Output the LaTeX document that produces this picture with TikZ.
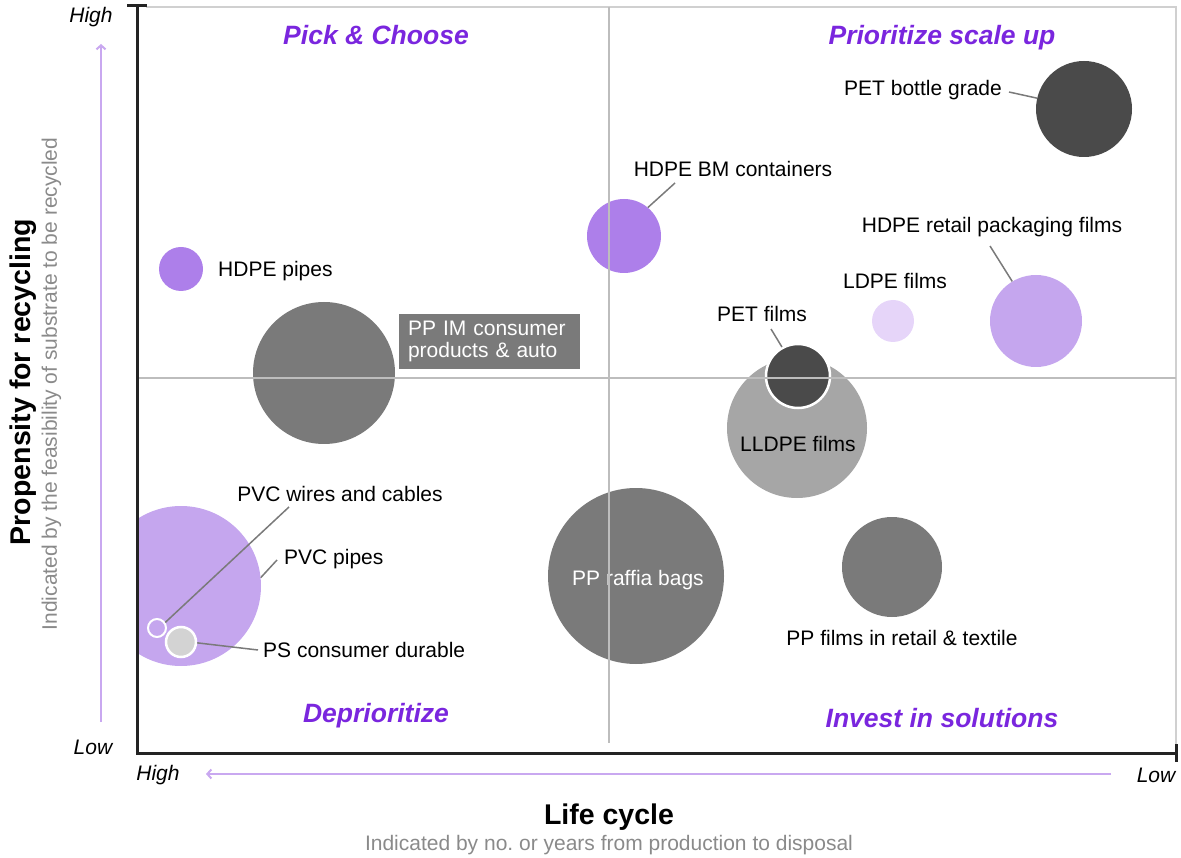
\documentclass[tikz,border=0pt]{standalone}
\usepackage{fontspec}
\setmainfont{Liberation Sans}
\usetikzlibrary{arrows.meta}
\definecolor{darkgrey}{HTML}{4A4A4A}
\definecolor{midgrey}{HTML}{7A7A7A}
\definecolor{lightgrey}{HTML}{A6A6A6}
\definecolor{palegrey}{HTML}{D3D3D3}
\definecolor{purplemid}{HTML}{AD7FEA}
\definecolor{purplesoft}{HTML}{C5A6EE}
\definecolor{purplepale}{HTML}{E6D5F9}
\definecolor{quadpurple}{HTML}{7A26DE}
\definecolor{arrowpurple}{HTML}{C9A8F0}
\definecolor{gridgrey}{HTML}{BDBDBD}
\definecolor{framegrey}{HTML}{D0D0D0}
\definecolor{subgrey}{HTML}{8A8A8A}
\definecolor{axisblack}{HTML}{232323}

\begin{document}
\begin{tikzpicture}
    [x=1pt, y=-1pt,
     bubble/.style={circle, inner sep=0pt, minimum size=#1},
     ringed/.style={draw=white, line width=2.5pt},
     lbl/.style={inner sep=0pt, font=\fontsize{21}{22}\selectfont},
     quad/.style={text=quadpurple, font=\fontsize{26.5}{30}\selectfont\bfseries\itshape},
     ends/.style={font=\fontsize{21}{25}\selectfont\itshape},
     axtitle/.style={font=\fontsize{28.5}{32}\selectfont\bfseries},
     axsub/.style={text=subgrey, font=\fontsize{21}{25}\selectfont},
     leader/.style={draw=midgrey, line width=1.5pt},
     gridline/.style={draw=gridgrey, line width=1.5pt},
     axis/.style={draw=axisblack, line width=3pt},
     axarrow/.style={draw=arrowpurple, line width=2pt, -{Straight Barb[length=4pt,width=9pt]}}]
    \useasboundingbox (0,0) rectangle (1181,858);
    \draw[draw=framegrey, line width=2pt] (146,7) -- (1176,7) -- (1176,745);

    \begin{scope}
      \clip (137,0) rectangle (1181,858);
      \node[bubble=160pt, fill=purplesoft] (pvcpipes) at (181,586) {};
    \end{scope}
    \node[bubble=18pt, fill=purplesoft, draw=white, line width=2pt] (pvcwires) at (157,628) {};
    \node[bubble=30pt, fill=palegrey, ringed] (pscons) at (181,642) {};
    \node[bubble=44pt, fill=purplemid] (hdpepipes) at (181,269) {};
    \node[bubble=142pt, fill=midgrey] (ppim) at (324,373) {};
    \node[bubble=74pt, fill=purplemid] (hdpebm) at (624,236) {};
    \node[bubble=96pt, fill=darkgrey] (petbottle) at (1084,109) {};
    \node[bubble=92pt, fill=purplesoft] (hdperetail) at (1036,321) {};
    \node[bubble=42pt, fill=purplepale] (ldpe) at (893,321) {};
    \node[bubble=140pt, fill=lightgrey] (lldpe) at (797,428) {};
    \node[bubble=64pt, fill=darkgrey, ringed] (petfilms) at (798,376) {};
    \node[bubble=176pt, fill=midgrey] (raffia) at (636,576) {};
    \node[lbl, text=white] (raffialbl) at (638,580) {PP raffia bags};
    \node[bubble=100pt, fill=midgrey] (ppfilms) at (892,567) {};

    \draw[gridline] (137,378) -- (1176,378);
    \draw[gridline] (609,7) -- (609,743);

    \draw[axis] (127,6) -- (147,6);
    \draw[axis] (137,6) -- (137,753) -- (1176,753);
    \draw[axis] (1176,744) -- (1176,762);

    \node[lbl, anchor=west] (hdpepipeslbl) at (218,271) {HDPE pipes};
    \node[lbl, fill=midgrey, text=white, minimum width=181pt, minimum height=55pt,
          text width=163pt, align=left] (ppimlbl) at (489.5,341.5) {PP IM consumer\\products \& auto};
    \node[lbl] (hdpebmlbl) at (733,169) {HDPE BM containers};
    \node[lbl, anchor=east] (petbottlelbl) at (1002,90) {PET bottle grade};
    \node[lbl] (hdperetaillbl) at (992,227) {HDPE retail packaging films};
    \node[lbl] (ldpelbl) at (895,281) {LDPE films};
    \node[lbl] (petfilmslbl) at (762,314) {PET films};
    \node[lbl] (lldpelbl) at (798,444) {LLDPE films};
    \node[lbl] (ppfilmslbl) at (902,638) {PP films in retail \& textile};
    \node[lbl] (pvcwireslbl) at (340,494) {PVC wires and cables};
    \node[lbl, anchor=west] (pvcpipeslbl) at (284,559) {PVC pipes};
    \node[lbl, anchor=west] (psconslbl) at (263,650) {PS consumer durable};

    \draw[leader] ([xshift=-58pt,yshift=-14pt]hdpebmlbl.center) -- (hdpebm.50);
    \draw[leader] ([xshift=7pt,yshift=-2pt]petbottlelbl.east) -- (petbottle.167);
    \draw[leader] ([xshift=-2pt,yshift=-19pt]hdperetaillbl.center) -- (hdperetail.121);
    \draw[leader] ([xshift=9pt,yshift=-15pt]petfilmslbl.center) -- (petfilms.119);
    \draw[leader] ([xshift=-51pt,yshift=-13pt]pvcwireslbl.center) -- (pvcwires.34);
    \draw[leader] ([xshift=-7pt,yshift=-1pt]pvcpipeslbl.west) -- (pvcpipes.6);
    \draw[leader] (pscons.-3) -- ([xshift=-5pt]psconslbl.west);

    \node[quad] (pick) at (376,35) {Pick \& Choose};
    \node[quad] (scaleup) at (942,38) {Prioritize scale up};
    \node[quad] (deprio) at (376,716) {Deprioritize};
    \node[quad] (invest) at (942,718) {Invest in solutions};

    \node[ends] (yhigh) at (91,17) {High};
    \node[ends] (ylow) at (93,747) {Low};
    \node[ends] (xhigh) at (158,775) {High};
    \node[ends] (xlow) at (1156,775) {Low};

    \coordinate (yfrom) at (101,722);
    \coordinate (yto) at (101,44);
    \coordinate (xfrom) at (1111,774);
    \coordinate (xto) at (206,774);
    \draw[axarrow] (yfrom) -- (yto);
    \draw[axarrow] (xfrom) -- (xto);

    \node[axtitle, rotate=90] (ytitle) at (23,382) {Propensity for recycling};
    \node[axsub, rotate=90] (ysub) at (51.5,384) {Indicated by the feasibility of substrate to be recycled};
    \node[axtitle] (xtitle) at (609,817) {Life cycle};
    \node[axsub] (xsub) at (609,845) {Indicated by no.\ or years from production to disposal};
  \end{tikzpicture}
\end{document}
